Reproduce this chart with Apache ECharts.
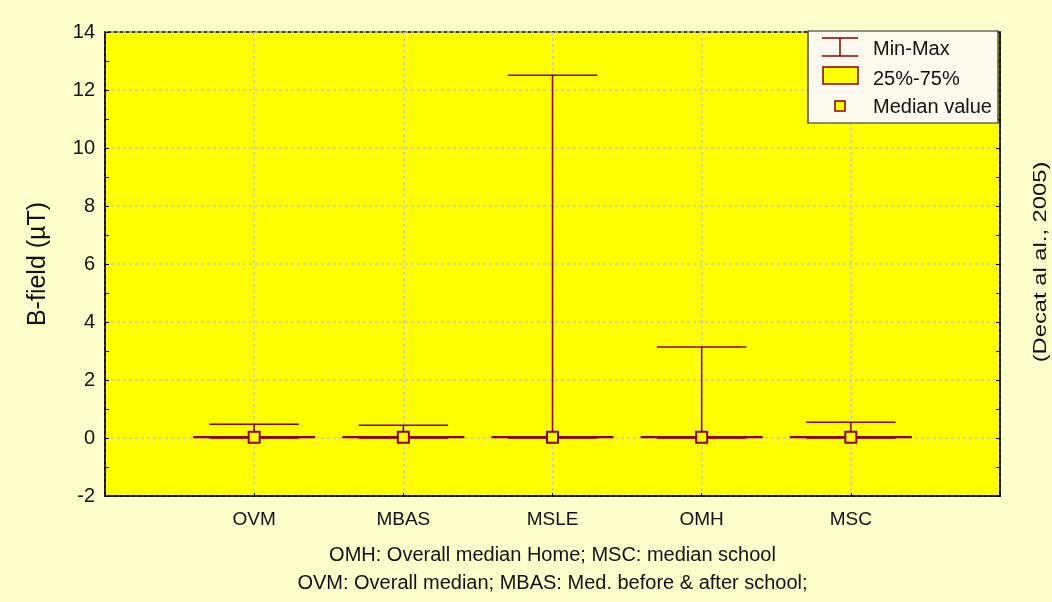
<!DOCTYPE html>
<html>
<head>
<meta charset="utf-8">
<script src="https://cdn.jsdelivr.net/npm/echarts@6/dist/echarts.min.js"></script>
<style>
html,body{margin:0;padding:0;background:#FFFFCC;}
#main{width:1052px;height:602px;}
</style>
</head>
<body>
<div id="main"></div>
<script>
var categories = ['OVM', 'MBAS', 'MSLE', 'OMH', 'MSC'];
var minVals = [0.0, 0.0, 0.0, 0.0, 0.0];
var q1Vals = [0.01, 0.01, 0.01, 0.01, 0.01];
var medianVals = [0.03, 0.03, 0.03, 0.03, 0.03];
var q3Vals = [0.05, 0.05, 0.05, 0.05, 0.05];
var maxVals = [0.47, 0.44, 12.51, 3.14, 0.54];
var yTicks = [-2, 0, 2, 4, 6, 8, 10, 12, 14];

var DARK = '#8B0000';
var FILL = '#FFFF00';
var font = 'Liberation Sans, Arial, sans-serif';

var axisCats = [''].concat(categories).concat(['']);
var boxData = categories.map(function (c, i) {
  return [i + 1, minVals[i], q1Vals[i], medianVals[i], q3Vals[i], maxVals[i]];
});

function renderBox(params, api) {
  var x = api.value(0);
  var pMin = api.coord([x, api.value(1)]);
  var pQ1 = api.coord([x, api.value(2)]);
  var pMed = api.coord([x, api.value(3)]);
  var pQ3 = api.coord([x, api.value(4)]);
  var pMax = api.coord([x, api.value(5)]);
  var band = api.size([1, 0])[0];
  var capW = band * 0.6;
  var boxW = band * 0.81;
  var cx = pMed[0];
  var ls = {stroke: DARK, lineWidth: 1.5};
  return {
    type: 'group',
    children: [
      {type: 'line', shape: {x1: cx, y1: pMax[1], x2: cx, y2: pMin[1]}, style: ls},
      {type: 'line', shape: {x1: cx - capW / 2, y1: pMax[1], x2: cx + capW / 2, y2: pMax[1]}, style: ls},
      {type: 'line', shape: {x1: cx - capW / 2, y1: pMin[1], x2: cx + capW / 2, y2: pMin[1]}, style: ls},
      {type: 'rect', shape: {x: cx - boxW / 2, y: pQ3[1], width: boxW, height: Math.max(1, pQ1[1] - pQ3[1])},
        style: {fill: FILL, stroke: DARK, lineWidth: 1.2}},
      {type: 'rect', shape: {x: cx - 5.5, y: pMed[1] - 5.5, width: 11, height: 11},
        style: {fill: FILL, stroke: DARK, lineWidth: 2}}
    ]
  };
}

var chart = echarts.init(document.getElementById('main'));
var legendX = 808, legendY = 31;
var option = {
  backgroundColor: '#FFFFCC',
  animation: false,
  grid: {left: 105, right: 52, top: 32, bottom: 106, show: true,
    backgroundColor: '#FFFF00', borderColor: '#000', borderWidth: 1.5},
  xAxis: [{
    type: 'category', data: axisCats, boundaryGap: false,
    axisLine: {show: true, onZero: false, lineStyle: {color: '#000', width: 1.5}},
    axisTick: {show: true, inside: true, length: 3, lineStyle: {color: '#000'}},
    axisLabel: {fontFamily: font, fontSize: 19, color: '#111', margin: 14},
    splitLine: {show: true, lineStyle: {color: '#C8C8C8', type: [3, 3], width: 1.5}},
    name: 'OMH: Overall median Home; MSC: median school\nOVM: Overall median; MBAS: Med. before & after school;',
    nameLocation: 'middle', nameGap: 45,
    nameTextStyle: {fontFamily: font, fontSize: 20, color: '#111', lineHeight: 28}
  }],
  yAxis: [{
    type: 'value', min: -2, max: 14, interval: 2,
    axisLine: {show: true, onZero: false, lineStyle: {color: '#000', width: 1.5}},
    axisTick: {show: true, inside: true, length: 4, lineStyle: {color: '#000'}},
    minorTick: {show: true, splitNumber: 2, length: 4, lineStyle: {color: '#000'}},
    axisLabel: {fontFamily: font, fontSize: 20, color: '#111', margin: 10,
      formatter: function (v) { return yTicks.indexOf(v) >= 0 ? String(v) : ''; }},
    splitLine: {show: true, lineStyle: {color: '#C8C8C8', type: [3, 3], width: 1.5}},
    name: 'B-field (µT)', nameLocation: 'middle', nameGap: 54,
    nameTextStyle: {fontFamily: font, fontSize: 25, color: '#111'}
  }, {
    type: 'value', min: -2, max: 14, interval: 2, position: 'right',
    axisLine: {show: true, onZero: false, lineStyle: {color: '#000', width: 1.5}},
    axisTick: {show: true, inside: true, length: 4, lineStyle: {color: '#000'}},
    minorTick: {show: true, splitNumber: 2, length: 4, lineStyle: {color: '#000'}},
    axisLabel: {show: false}, splitLine: {show: false}
  }],
  series: [{
    type: 'custom', name: 'Box', renderItem: renderBox, data: boxData,
    encode: {x: 0, y: [1, 2, 3, 4, 5]}, clip: false, z: 5
  }],
  graphic: [
    {type: 'text', x: 1041, y: 262, rotation: Math.PI / 2, scaleX: 1.25, z: 100,
      style: {text: '(Decat al al., 2005)', fontFamily: font, fontSize: 19, fill: '#111',
        textAlign: 'center', textVerticalAlign: 'middle'}},
    {type: 'rect', x: legendX, y: legendY, z: 100, shape: {x: 0, y: 0, width: 190, height: 92},
      style: {fill: '#FFFAEE', stroke: '#222', lineWidth: 1.2}},
    {type: 'line', x: legendX, y: legendY, z: 101, shape: {x1: 14, y1: 7, x2: 50, y2: 7}, style: {stroke: DARK, lineWidth: 1.5}},
    {type: 'line', x: legendX, y: legendY, z: 101, shape: {x1: 32, y1: 7, x2: 32, y2: 25}, style: {stroke: DARK, lineWidth: 1.5}},
    {type: 'line', x: legendX, y: legendY, z: 101, shape: {x1: 14, y1: 25, x2: 50, y2: 25}, style: {stroke: DARK, lineWidth: 1.5}},
    {type: 'text', x: legendX + 65, y: legendY + 18, z: 101, style: {text: 'Min-Max', fontFamily: font, fontSize: 20, fill: '#111', textVerticalAlign: 'middle'}},
    {type: 'rect', x: legendX, y: legendY, z: 101, shape: {x: 15, y: 36, width: 35, height: 17}, style: {fill: FILL, stroke: DARK, lineWidth: 1.5}},
    {type: 'text', x: legendX + 65, y: legendY + 48, z: 101, style: {text: '25%-75%', fontFamily: font, fontSize: 20, fill: '#111', textVerticalAlign: 'middle'}},
    {type: 'rect', x: legendX, y: legendY, z: 101, shape: {x: 27, y: 70, width: 10, height: 10}, style: {fill: FILL, stroke: DARK, lineWidth: 1.5}},
    {type: 'text', x: legendX + 65, y: legendY + 76, z: 101, style: {text: 'Median value', fontFamily: font, fontSize: 20, fill: '#111', textVerticalAlign: 'middle'}}
  ]
};
chart.setOption(option);
</script>
</body>
</html>
